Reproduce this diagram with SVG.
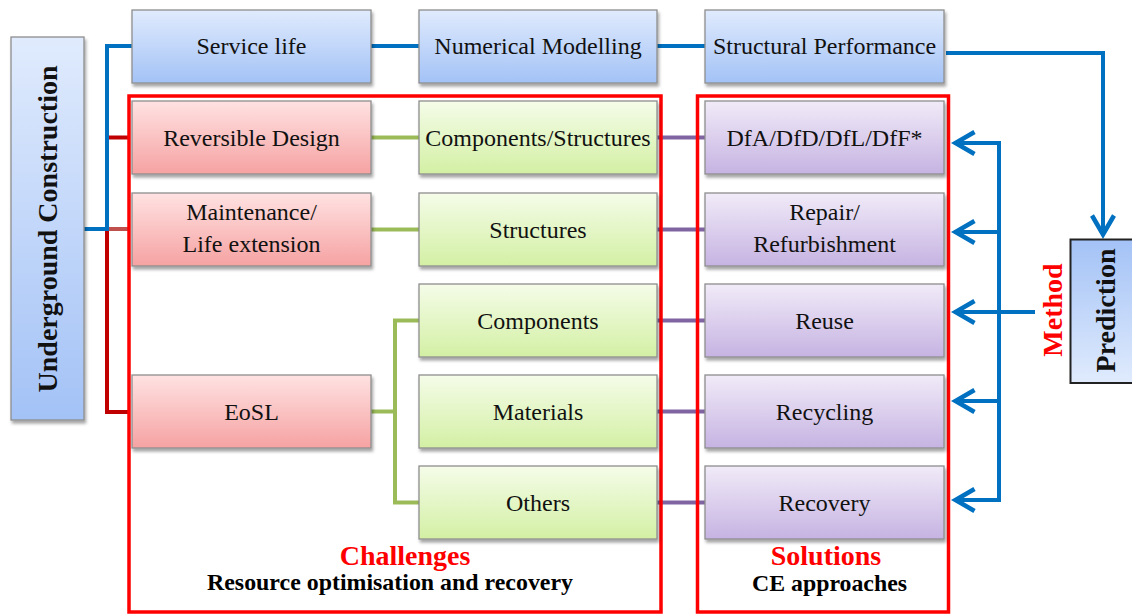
<svg xmlns="http://www.w3.org/2000/svg" width="1132" height="615" viewBox="0 0 1132 615">
  <defs>
    <linearGradient id="gBlue" x1="0" y1="0" x2="0" y2="1">
      <stop offset="0" stop-color="#e0ebfd"/>
      <stop offset="1" stop-color="#a3c2f6"/>
    </linearGradient>
    <linearGradient id="gBlueUp" x1="0" y1="1" x2="0" y2="0">
      <stop offset="0" stop-color="#e0ebfd"/>
      <stop offset="1" stop-color="#a3c2f6"/>
    </linearGradient>
    <linearGradient id="gRed" x1="0" y1="0" x2="0" y2="1">
      <stop offset="0" stop-color="#ffe2e2"/>
      <stop offset="1" stop-color="#f6a2a2"/>
    </linearGradient>
    <linearGradient id="gGreen" x1="0" y1="0" x2="0" y2="1">
      <stop offset="0" stop-color="#f5fce9"/>
      <stop offset="1" stop-color="#d3f0a4"/>
    </linearGradient>
    <linearGradient id="gPurple" x1="0" y1="0" x2="0" y2="1">
      <stop offset="0" stop-color="#f1ebf8"/>
      <stop offset="1" stop-color="#c6b3e2"/>
    </linearGradient>
    <filter id="shadow" x="-10%" y="-10%" width="130%" height="140%">
      <feDropShadow dx="1.5" dy="3" stdDeviation="1.8" flood-color="#000" flood-opacity="0.35"/>
    </filter>
    <marker id="ah" markerUnits="userSpaceOnUse" viewBox="-26 -16 32 32" markerWidth="32" markerHeight="32" refX="0" refY="0" orient="auto" overflow="visible">
      <path d="M-19,-11 L0,0 L-19,11" fill="none" stroke="#0070c0" stroke-width="4.5" stroke-linejoin="miter"/>
    </marker>
  </defs>
  <style>
    .box { stroke: #8e8e8e; stroke-width: 1.3; filter: url(#shadow); }
    .blue { fill: url(#gBlue); }
    .red { fill: url(#gRed); }
    .green { fill: url(#gGreen); }
    .purple { fill: url(#gPurple); }
    .t { font-family: "Liberation Serif", "Times New Roman", serif; font-size: 24px; fill: #111; text-anchor: middle; }
    .hd { font-family: "Liberation Serif", "Times New Roman", serif; font-weight: bold; font-size: 28px; text-anchor: middle; }
    .sub { font-family: "Liberation Serif", "Times New Roman", serif; font-weight: bold; font-size: 23px; fill: #000; text-anchor: middle; }
    .ln { fill: none; stroke-width: 4; }
    .frame { fill: none; stroke: #ff0000; stroke-width: 3.5; }
  </style>

  <!-- connectors -->
  <g id="connectors">
    <path class="ln" stroke="#c00000" d="M130 137.5 H107 V412 H130"/>
    <path class="ln" stroke="#c0504d" d="M108 229 H130"/>
    <path class="ln" stroke="#0070c0" stroke-width="3.5" d="M84 229 H107 V46 H132"/>
    <path class="ln" stroke="#0070c0" d="M371 46 H419"/>
    <path class="ln" stroke="#0070c0" d="M657 46 H705"/>

    <path class="ln" stroke="#9bbb59" d="M371 137.5 H419"/>
    <path class="ln" stroke="#9bbb59" d="M371 229.5 H419"/>
    <path class="ln" stroke="#9bbb59" d="M371 411.5 H395"/>
    <path class="ln" stroke="#9bbb59" d="M419 320.5 H395 V502.5 H419"/>

    <path class="ln" stroke="#8064a2" d="M657 137.5 H705"/>
    <path class="ln" stroke="#8064a2" d="M657 229.5 H705"/>
    <path class="ln" stroke="#8064a2" d="M657 320.5 H705"/>
    <path class="ln" stroke="#8064a2" d="M657 411.5 H705"/>
    <path class="ln" stroke="#8064a2" d="M657 502.5 H705"/>

    <path class="ln" stroke="#0070c0" d="M999 141 V502"/>
    <path class="ln" stroke="#0070c0" d="M999 143 H955.5" marker-end="url(#ah)"/>
    <path class="ln" stroke="#0070c0" d="M999 232 H955.5" marker-end="url(#ah)"/>
    <path class="ln" stroke="#0070c0" d="M1035 312 H955.5" marker-end="url(#ah)"/>
    <path class="ln" stroke="#0070c0" d="M999 401 H955.5" marker-end="url(#ah)"/>
    <path class="ln" stroke="#0070c0" d="M999 500 H955.5" marker-end="url(#ah)"/>

    <path class="ln" stroke="#0070c0" d="M946 53 H1103 V234.5" marker-end="url(#ah)"/>
  </g>

  <!-- group frames -->
  <g id="challenges">
    <rect class="frame" x="129" y="96" width="532" height="516"/>
    <text class="hd" x="405" y="565" fill="#ff0000">Challenges</text>
    <text class="sub" x="390" y="590" textLength="366" lengthAdjust="spacingAndGlyphs">Resource optimisation and recovery</text>
  </g>
  <g id="solutions">
    <rect class="frame" x="697.5" y="96" width="251" height="516"/>
    <text class="hd" x="826" y="565" fill="#ff0000">Solutions</text>
    <text class="sub" x="829.5" y="591" textLength="155" lengthAdjust="spacingAndGlyphs">CE approaches</text>
  </g>

  <!-- left root -->
  <g id="underground-construction">
    <rect class="box blue" x="11" y="37" width="73" height="383"/>
    <text class="hd" fill="#111" transform="translate(57,229) rotate(-90)">Underground Construction</text>
  </g>

  <!-- top row -->
  <g id="service-life">
    <rect class="box blue" x="132" y="10" width="239" height="73"/>
    <text class="t" x="251.5" y="54">Service life</text>
  </g>
  <g id="numerical-modelling">
    <rect class="box blue" x="419" y="10" width="238" height="73"/>
    <text class="t" x="538" y="54">Numerical Modelling</text>
  </g>
  <g id="structural-performance">
    <rect class="box blue" x="705" y="10" width="239" height="73"/>
    <text class="t" x="824.5" y="54">Structural Performance</text>
  </g>

  <!-- challenge column -->
  <g id="reversible-design">
    <rect class="box red" x="132" y="101" width="239" height="73"/>
    <text class="t" x="251.5" y="146">Reversible Design</text>
  </g>
  <g id="maintenance">
    <rect class="box red" x="132" y="193" width="239" height="73"/>
    <text class="t" x="251.5" y="220">Maintenance/</text>
    <text class="t" x="251.5" y="252">Life extension</text>
  </g>
  <g id="eosl">
    <rect class="box red" x="132" y="375" width="239" height="73"/>
    <text class="t" x="251.5" y="420">EoSL</text>
  </g>

  <!-- scope column -->
  <g id="components-structures">
    <rect class="box green" x="419" y="101" width="238" height="73"/>
    <text class="t" x="538" y="146">Components/Structures</text>
  </g>
  <g id="structures">
    <rect class="box green" x="419" y="193" width="238" height="73"/>
    <text class="t" x="538" y="238">Structures</text>
  </g>
  <g id="components">
    <rect class="box green" x="419" y="284" width="238" height="73"/>
    <text class="t" x="538" y="329">Components</text>
  </g>
  <g id="materials">
    <rect class="box green" x="419" y="375" width="238" height="73"/>
    <text class="t" x="538" y="420">Materials</text>
  </g>
  <g id="others">
    <rect class="box green" x="419" y="466" width="238" height="73"/>
    <text class="t" x="538" y="511">Others</text>
  </g>

  <!-- solutions column -->
  <g id="dfa">
    <rect class="box purple" x="705" y="101" width="239" height="73"/>
    <text class="t" x="824.5" y="146">DfA/DfD/DfL/DfF*</text>
  </g>
  <g id="repair">
    <rect class="box purple" x="705" y="193" width="239" height="73"/>
    <text class="t" x="824.5" y="220">Repair/</text>
    <text class="t" x="824.5" y="252">Refurbishment</text>
  </g>
  <g id="reuse">
    <rect class="box purple" x="705" y="284" width="239" height="73"/>
    <text class="t" x="824.5" y="329">Reuse</text>
  </g>
  <g id="recycling">
    <rect class="box purple" x="705" y="375" width="239" height="73"/>
    <text class="t" x="824.5" y="420">Recycling</text>
  </g>
  <g id="recovery">
    <rect class="box purple" x="705" y="466" width="239" height="73"/>
    <text class="t" x="824.5" y="511">Recovery</text>
  </g>

  <!-- method label and prediction -->
  <g id="method">
    <text class="hd" fill="#ff0000" transform="translate(1062,310) rotate(-90)">Method</text>
  </g>
  <g id="prediction">
    <rect x="1070.5" y="239.5" width="70" height="143.5" fill="url(#gBlueUp)" stroke="#222" stroke-width="2"/>
    <text class="hd" fill="#111" transform="translate(1115,310.5) rotate(-90)">Prediction</text>
  </g>
</svg>
